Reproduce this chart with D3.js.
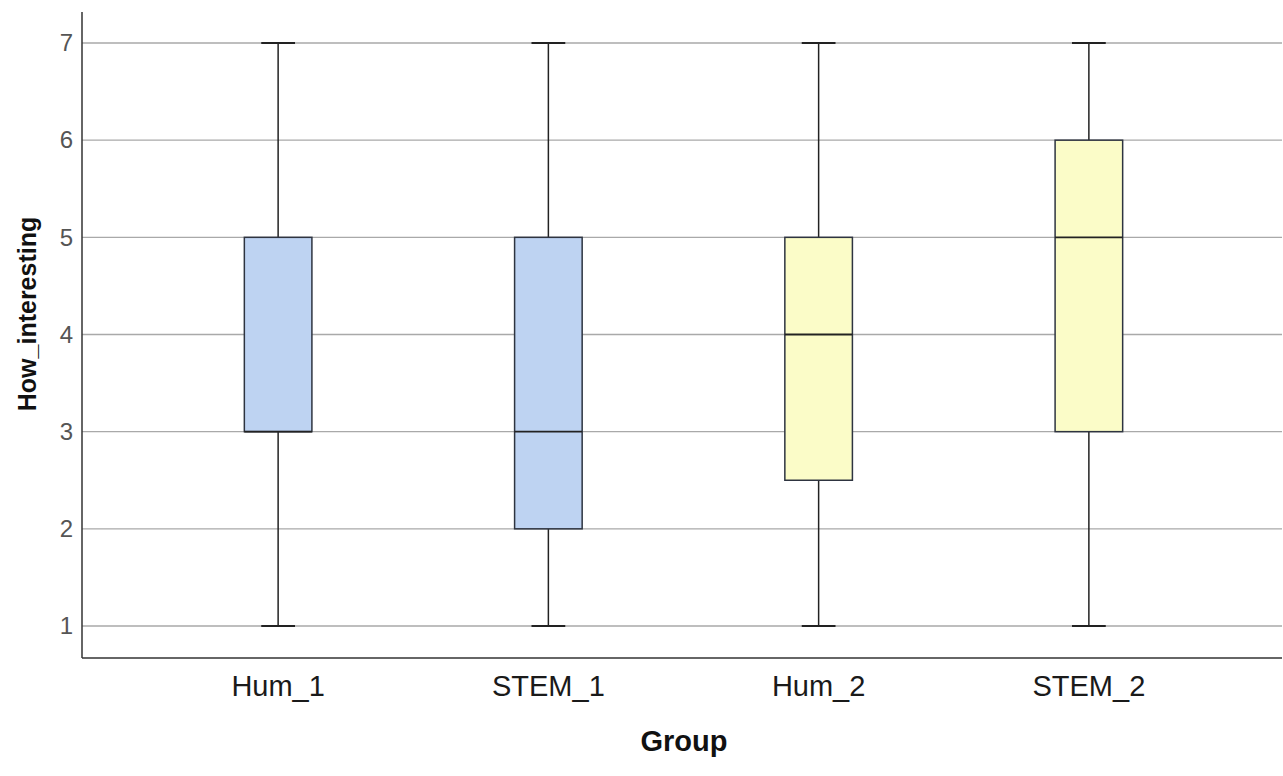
<!DOCTYPE html>
<html>
<head>
<meta charset="utf-8">
<script src="https://cdn.jsdelivr.net/npm/d3@7"></script>
<style>
  html, body { margin: 0; padding: 0; background: #ffffff; }
  svg { display: block; }
</style>
</head>
<body>
<svg id="chart" width="1283" height="776"></svg>
<script>
// Five-number summaries of How_interesting by group
const groups   = ["Hum_1", "STEM_1", "Hum_2", "STEM_2"];
const mins     = [1, 1, 1, 1];
const q1s      = [3, 2, 2.5, 3];
const medians  = [3, 3, 4, 5];
const q3s      = [5, 5, 5, 6];
const maxs     = [7, 7, 7, 7];
const fills    = ["#bed3f2", "#bed3f2", "#fbfcc8", "#fbfcc8"];
const yTicks   = [1, 2, 3, 4, 5, 6, 7];

const svg = d3.select("#chart");

const plot = { left: 82, right: 1282, top: 12, bottom: 658 };

const x = d3.scaleBand().domain(groups).range([143, 1224]).padding(0);
const y = d3.scaleLinear().domain([1, 7]).range([626, 43]);

const boxW = x.bandwidth() * 0.25;
const capW = boxW / 2;

// horizontal gridlines
svg.append("g")
  .selectAll("line")
  .data(yTicks)
  .join("line")
  .attr("x1", plot.left).attr("x2", plot.right)
  .attr("y1", d => y(d)).attr("y2", d => y(d))
  .attr("stroke", "#a9a9a9")
  .attr("stroke-width", 1.3);

// y axis
const yAxis = svg.append("g")
  .attr("transform", `translate(${plot.left},0)`)
  .call(d3.axisLeft(y).tickValues(yTicks).tickFormat(d3.format("d")).tickSize(0).tickPadding(9));
yAxis.select(".domain").remove();
yAxis.selectAll("text")
  .attr("font-family", "Liberation Sans, Arial, sans-serif")
  .attr("font-size", 24)
  .attr("fill", "#555555");

// x axis
const xAxis = svg.append("g")
  .attr("transform", `translate(0,${plot.bottom})`)
  .call(d3.axisBottom(x).tickSize(0).tickPadding(17));
xAxis.select(".domain").remove();
xAxis.selectAll("text")
  .attr("font-family", "Liberation Sans, Arial, sans-serif")
  .attr("font-size", 29)
  .attr("fill", "#1a1a1a");

// axis frame lines
svg.append("line")
  .attr("x1", plot.left).attr("x2", plot.left)
  .attr("y1", plot.top).attr("y2", plot.bottom)
  .attr("stroke", "#333").attr("stroke-width", 1.5);
svg.append("line")
  .attr("x1", plot.left).attr("x2", plot.right)
  .attr("y1", plot.bottom).attr("y2", plot.bottom)
  .attr("stroke", "#333").attr("stroke-width", 1.5);

// boxplots
const data = groups.map((g, i) => ({
  g, min: mins[i], q1: q1s[i], med: medians[i], q3: q3s[i], max: maxs[i], fill: fills[i]
}));

const box = svg.append("g")
  .selectAll("g")
  .data(data)
  .join("g")
  .attr("transform", d => `translate(${x(d.g) + x.bandwidth() / 2},0)`);

// whiskers
box.append("line")
  .attr("x1", 0).attr("x2", 0)
  .attr("y1", d => y(d.max)).attr("y2", d => y(d.q3))
  .attr("stroke", "#222").attr("stroke-width", 1.5);
box.append("line")
  .attr("x1", 0).attr("x2", 0)
  .attr("y1", d => y(d.q1)).attr("y2", d => y(d.min))
  .attr("stroke", "#222").attr("stroke-width", 1.5);

// whisker caps
box.append("line")
  .attr("x1", -capW / 2).attr("x2", capW / 2)
  .attr("y1", d => y(d.max)).attr("y2", d => y(d.max))
  .attr("stroke", "#222").attr("stroke-width", 2);
box.append("line")
  .attr("x1", -capW / 2).attr("x2", capW / 2)
  .attr("y1", d => y(d.min)).attr("y2", d => y(d.min))
  .attr("stroke", "#222").attr("stroke-width", 2);

// box
box.append("rect")
  .attr("x", -boxW / 2)
  .attr("width", boxW)
  .attr("y", d => y(d.q3))
  .attr("height", d => y(d.q1) - y(d.q3))
  .attr("fill", d => d.fill)
  .attr("stroke", "#2e3440")
  .attr("stroke-width", 1.5);

// median
box.append("line")
  .attr("x1", -boxW / 2).attr("x2", boxW / 2)
  .attr("y1", d => y(d.med)).attr("y2", d => y(d.med))
  .attr("stroke", "#222").attr("stroke-width", 1.8);

// axis titles
svg.append("text")
  .attr("transform", `translate(36,${(plot.top + plot.bottom) / 2 - 21}) rotate(-90)`)
  .attr("text-anchor", "middle")
  .attr("font-family", "Liberation Sans, Arial, sans-serif")
  .attr("font-weight", "bold")
  .attr("font-size", 25)
  .attr("fill", "#111")
  .text("How_interesting");

svg.append("text")
  .attr("x", 684)
  .attr("y", 751)
  .attr("text-anchor", "middle")
  .attr("font-family", "Liberation Sans, Arial, sans-serif")
  .attr("font-weight", "bold")
  .attr("font-size", 29)
  .attr("fill", "#111")
  .text("Group");
</script>
</body>
</html>
